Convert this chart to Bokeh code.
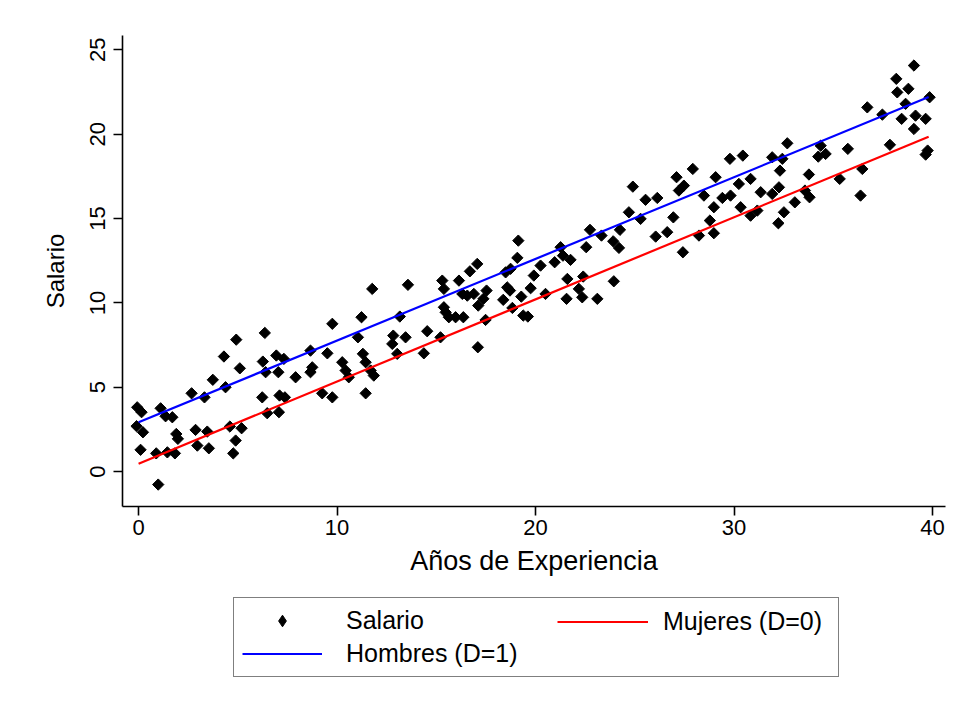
import math
from bokeh.plotting import figure
from bokeh.layouts import column
from bokeh.models import Range1d, FixedTicker, Legend, LegendItem
from bokeh.embed import file_html
from bokeh.resources import INLINE

# ---- data ----
exp_x = [
    -0.07, 0.15, -0.10, 0.22, 0.10, 1.11, 1.36, 1.70, 0.89, 1.45, 1.83, 0.99, 1.90, 1.98,
    2.67, 3.32, 2.87, 3.46, 2.96, 3.54, 3.74, 4.30, 4.38, 4.92, 5.10, 4.60, 5.19, 4.89, 4.77,
    6.36, 6.26, 6.40, 6.23, 6.48, 6.94, 7.32, 7.04, 7.10, 7.37, 7.07, 7.91, 8.66, 8.75, 8.66,
    9.25, 9.51, 9.76, 9.76,
    10.26, 10.43, 10.59, 11.05, 11.23, 11.30, 11.44, 11.77, 11.69, 11.85, 11.44, 12.83, 12.78,
    13.03, 13.45, 13.16, 13.57, 14.37, 14.54, 15.21, 15.30, 15.38, 15.38, 15.47, 15.63, 15.97,
    16.14, 16.36, 16.31, 16.56, 16.69, 17.06, 16.89, 17.09, 17.11, 17.37, 17.53, 17.48, 18.49,
    18.74, 18.57, 18.71, 18.37, 18.83, 19.13, 19.08, 19.28, 19.38, 19.61, 19.75, 19.91, 20.25,
    20.50, 20.96, 21.26, 21.38, 21.76, 21.60, 21.56, 22.18, 22.35, 22.40, 22.55, 22.74, 23.11,
    23.32, 23.91, 24.20, 23.94, 24.25, 24.70, 24.90, 25.29, 25.54, 26.13, 26.05, 26.63, 26.94,
    27.10, 27.22, 27.47, 27.42, 27.92, 28.48, 28.23, 28.78, 28.98, 28.98, 29.07, 29.41, 29.82,
    29.79, 30.24, 30.33,
    30.44, 30.83, 30.83, 31.17, 31.34, 31.92, 31.92, 32.26, 32.31, 32.43, 32.68, 32.51, 32.23,
    33.06, 33.57, 33.80, 33.77, 34.36, 34.24, 34.61, 35.32, 35.73, 36.46, 36.37, 36.71, 37.47,
    37.85, 38.17, 38.22, 38.78, 38.64, 38.44, 39.06, 39.14, 39.06, 39.65, 39.85, 39.65, 39.75,
]
salario = [
    3.81, 3.52, 2.69, 2.33, 1.29, 3.75, 3.28, 3.22, 1.08, 1.14, 1.08, -0.77, 2.23, 1.94,
    4.64, 4.40, 2.47, 2.37, 1.54, 1.38, 5.44, 6.82, 5.00, 7.82, 6.12, 2.67, 2.57, 1.84, 1.08,
    8.22, 6.52, 5.89, 4.40, 3.46, 6.88, 6.68, 5.89, 4.51, 4.40, 3.52, 5.59, 7.17, 6.18, 5.89,
    4.64, 7.01, 8.76, 4.40,
    6.48, 5.99, 5.59, 7.96, 9.15, 6.98, 6.48, 10.83, 5.99, 5.69, 4.64, 8.06, 7.57,
    6.98, 7.96, 9.19, 11.07, 7.01, 8.32, 7.96, 11.32, 10.83, 9.74, 9.44, 9.15, 9.15,
    11.32, 9.15, 10.53, 10.43, 11.87, 12.31, 10.53, 7.37, 9.84, 10.24, 10.73, 8.99, 11.81,
    12.02, 10.92, 10.73, 10.18, 9.70, 13.69, 12.67, 10.37, 9.25, 9.19, 10.87, 11.62, 12.21,
    10.53, 12.41, 13.30, 12.80, 12.55, 11.42, 10.24, 10.83, 10.33, 11.56, 13.30, 14.33, 10.24,
    13.99, 13.65, 13.26, 11.28, 14.33, 15.37, 16.89, 14.98, 16.11, 16.22, 13.93, 14.19, 15.07,
    17.45, 16.66, 16.95, 13.00, 17.94, 16.36, 13.99, 14.88, 15.67, 14.13, 17.45, 16.22, 16.36,
    18.54, 17.05, 15.67,
    18.73, 17.35, 15.17, 15.47, 16.56, 18.63, 16.46, 16.85, 17.84, 18.54, 19.46, 15.37, 14.72,
    15.96, 16.66, 16.26, 17.61, 19.32, 18.67, 18.83, 17.35, 19.13, 17.94, 16.36, 21.59, 21.16,
    19.37, 23.28, 22.48, 22.69, 21.80, 20.91, 24.07, 21.10, 20.31, 20.91, 22.19, 18.79, 19.03,
]
fit_x = [0.0, 39.8]
hombres_fit = [2.92, 22.20]
mujeres_fit = [0.47, 19.85]
x_ticks = [0, 10, 20, 30, 40]
y_ticks = [0, 5, 10, 15, 20, 25]

FONT = "Liberation Sans"
MARKER = dict(marker="square", size=8, angle=math.pi / 4, fill_color="black", line_color="black")
RED = dict(line_color="#ff0000", line_width=2.2)
BLUE = dict(line_color="#0000ff", line_width=2.2)

# ---------------- main plot ----------------
p = figure(
    width=964, height=590,
    output_backend="svg", toolbar_location=None,
    x_range=Range1d(-0.81, 40.65), y_range=Range1d(-2.07, 25.85),
    min_border_left=122, min_border_right=19, min_border_top=35, min_border_bottom=84,
    background_fill_color="white", border_fill_color="white",
)
p.outline_line_color = None
p.grid.visible = False

p.scatter(exp_x, salario, **MARKER)
p.line(fit_x, mujeres_fit, **RED)
p.line(fit_x, hombres_fit, **BLUE)

for ax in (p.xaxis[0], p.yaxis[0]):
    ax.axis_line_color = "black"
    ax.axis_line_width = 1.6
    ax.major_tick_line_color = "black"
    ax.major_tick_line_width = 1.6
    ax.major_tick_out = 9
    ax.major_tick_in = 0
    ax.minor_tick_out = 0
    ax.minor_tick_in = 0
    ax.major_label_text_font = FONT
    ax.major_label_text_font_size = "22px"
    ax.major_label_text_color = "black"
    ax.axis_label_text_font = FONT
    ax.axis_label_text_font_style = "normal"
    ax.axis_label_text_color = "black"

p.xaxis.ticker = FixedTicker(ticks=x_ticks)
p.yaxis.ticker = FixedTicker(ticks=y_ticks)
p.xaxis.axis_label = "Años de Experiencia"
p.yaxis.axis_label = "Salario"
p.xaxis.axis_label_text_font_size = "27px"
p.yaxis.axis_label_text_font_size = "24px"
p.yaxis.major_label_orientation = "vertical"
p.xaxis.major_label_standoff = 4
p.xaxis.axis_label_standoff = 8
p.yaxis.major_label_standoff = 8
p.yaxis.axis_label_standoff = 19

# ---------------- legend strip (frame aligned with the plot frame) ----------------
lg = figure(
    width=964, height=114,
    output_backend="svg", toolbar_location=None,
    x_range=Range1d(0, 1), y_range=Range1d(0, 1),
    x_axis_location=None, y_axis_location=None,
    min_border_left=0, min_border_right=0, min_border_top=0, min_border_bottom=0,
    background_fill_color="white", border_fill_color="white",
)
lg.outline_line_color = None
lg.grid.visible = False
# legend keys: one point each, placed outside the strip's ranges so only the key shows
k_sc = lg.scatter(x=[-5], y=[-5], marker="diamond", size=8,
                  fill_color="black", line_color="black")
k_rl = lg.line(x=[-5, -4], y=[-5, -5], **RED)
k_bl = lg.line(x=[-5, -4], y=[-5, -5], **BLUE)

common = dict(
    label_height=29,
    label_text_font=FONT, label_text_font_size="25px", label_text_color="black",
)
leg_a = Legend(
    items=[
        LegendItem(label="Salario", renderers=[k_sc]),
        LegendItem(label="Hombres (D=1)", renderers=[k_bl]),
    ],
    orientation="vertical",
    location=(111, 27),
    glyph_width=80, glyph_height=29, label_standoff=24, label_width=484,
    spacing=4, padding=8, margin=0,
    border_line_color="black", border_line_width=1.5,
    background_fill_color="white", background_fill_alpha=1.0,
    **common,
)
leg_b = Legend(
    items=[LegendItem(label="Mujeres (D=0)", renderers=[k_rl])],
    orientation="vertical",
    location=(435, 68),
    glyph_width=91, glyph_height=29, label_standoff=15,
    spacing=4, padding=8, margin=0,
    border_line_color=None, background_fill_alpha=0.0,
    **common,
)
lg.add_layout(leg_a)
lg.add_layout(leg_b)

layout = column(p, lg, spacing=0)
open("out.html", "w").write(file_html(layout, INLINE))
